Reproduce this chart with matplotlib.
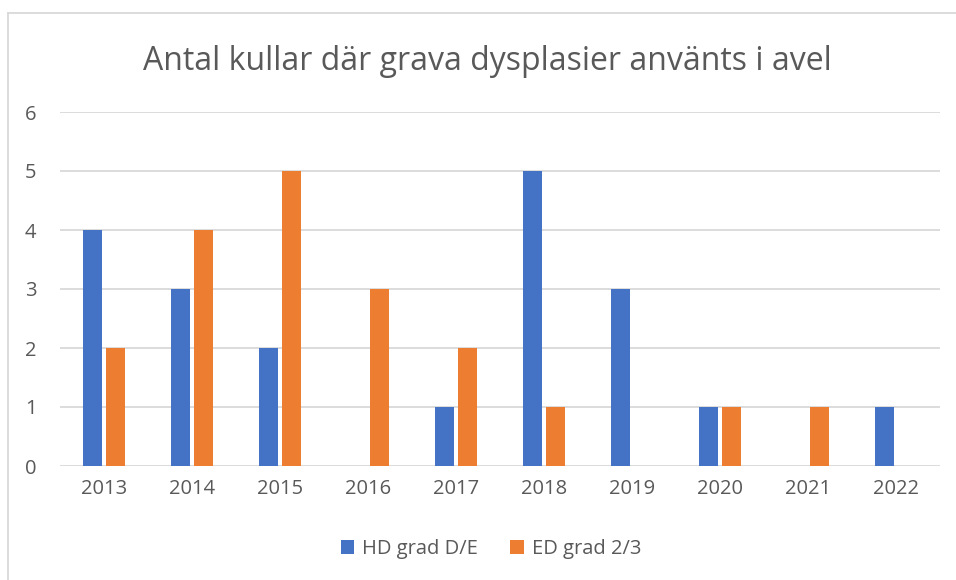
import numpy as np
import matplotlib.pyplot as plt
from matplotlib.lines import Line2D

years = ['2013', '2014', '2015', '2016', '2017', '2018', '2019', '2020', '2021', '2022']
hd = [4, 3, 2, 0, 1, 5, 3, 1, 0, 1]
ed = [2, 4, 5, 3, 2, 1, 0, 1, 1, 0]

plt.rcParams['font.family'] = ['Open Sans', 'DejaVu Sans']
txt = '#595959'

fig = plt.figure(figsize=(9.56, 5.8), dpi=100)
ax = fig.add_axes([60/956, 1-466/580, 880/956, 354/580])

x = np.arange(len(years))
w = 0.216
ax.bar(x - 0.136, hd, w, color='#4472C4', label='HD grad D/E', zorder=3)
ax.bar(x + 0.136, ed, w, color='#ED7D31', label='ED grad 2/3', zorder=3)

ax.set_xlim(-0.5, len(years) - 0.5)
ax.set_ylim(0, 6)
ax.set_yticks(range(7))
ax.set_xticks(x)
ax.set_xticklabels(years)
ax.grid(axis='y', color='#D9D9D9', linewidth=1.3, zorder=0)
for s in ax.spines.values():
    s.set_visible(False)
ax.tick_params(length=0, labelsize=14.5, colors=txt, pad=9)
ax.tick_params(axis='y', pad=17)

fig.text(487/956, 1-61/580, 'Antal kullar där grava dysplasier använts i avel',
         ha='center', va='center', fontsize=23, color=txt)

ax.legend(loc='center', bbox_to_anchor=(0.49, -0.235), ncol=2, frameon=False,
          fontsize=14.5, labelcolor=txt, handlelength=0.65, handleheight=0.65,
          columnspacing=1.6, handletextpad=0.4)

# chart border
fig.add_artist(Line2D([8/956, 1], [1-13/580, 1-13/580], color='#D9D9D9', lw=1.3))
fig.add_artist(Line2D([8/956, 8/956], [0, 1-13/580], color='#D9D9D9', lw=1.3))

fig.savefig('out.png', dpi=100)
